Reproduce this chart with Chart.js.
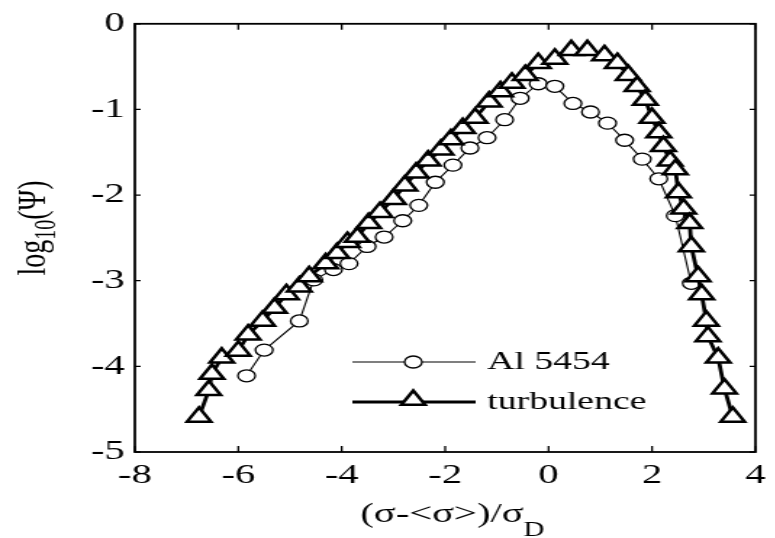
<!DOCTYPE html>
<html>
<head>
<meta charset="utf-8">
<script src="https://cdn.jsdelivr.net/npm/chart.js@4/dist/chart.umd.min.js"></script>
<style>
  html, body { margin: 0; padding: 0; background: #fff; overflow: hidden; }
  /* the original figure is stretched horizontally, so draw narrow and stretch */
  #chart { display: block; transform: scaleX(1.45); transform-origin: 0 0; }
</style>
</head>
<body>
<canvas id="chart" width="535" height="538"></canvas>
<script>
// Al 5454 (circles)
const alX = [-5.84, -5.50, -4.82, -4.54, -4.16, -3.86, -3.51, -3.18, -2.82, -2.51, -2.19, -1.85, -1.52,
  -1.19, -0.85, -0.55, -0.20, 0.12, 0.47, 0.81, 1.14, 1.47, 1.81, 2.13, 2.45, 2.76];
const alY = [-4.11, -3.81, -3.47, -2.99, -2.87, -2.80, -2.60, -2.49, -2.30, -2.12, -1.85, -1.65, -1.45,
  -1.33, -1.12, -0.87, -0.70, -0.73, -0.93, -1.03, -1.16, -1.36, -1.58, -1.81, -2.24, -3.03];

// turbulence (triangles)
const turbX = [-6.76, -6.57, -6.51, -6.32, -6.00, -5.81, -5.53, -5.30, -5.07, -4.82, -4.63, -4.31, -4.09,
  -3.89, -3.70, -3.48, -3.26, -3.00, -2.78, -2.56, -2.33, -2.08, -1.89, -1.66, -1.42, -1.15, -0.93,
  -0.71, -0.45, -0.20, 0.12, 0.44, 0.75, 1.08, 1.33, 1.54, 1.71, 1.87, 2.00, 2.13, 2.22, 2.35, 2.45,
  2.51, 2.61, 2.73, 2.76, 2.89, 2.96, 3.05, 3.08, 3.28, 3.40, 3.56];
const turbY = [-4.59, -4.28, -4.09, -3.90, -3.82, -3.63, -3.47, -3.32, -3.16, -3.07, -2.95, -2.80, -2.68,
  -2.55, -2.49, -2.33, -2.20, -2.05, -1.89, -1.74, -1.60, -1.47, -1.35, -1.22, -1.10, -0.91, -0.79,
  -0.69, -0.60, -0.46, -0.41, -0.31, -0.31, -0.37, -0.46, -0.60, -0.73, -0.89, -1.10, -1.27, -1.43, -1.60, -1.70,
  -1.97, -2.16, -2.33, -2.60, -2.95, -3.16, -3.47, -3.65, -3.90, -4.26, -4.59];

const xTicks = [-8, -6, -4, -2, 0, 2, 4];
const yTicks = [-5, -4, -3, -2, -1, 0];
const legendLabels = ['Al 5454', 'turbulence'];

const FONT = "'Liberation Serif', 'Times New Roman', serif";

function pts(xs, ys) {
  return xs.map((x, i) => ({ x: x, y: ys[i] }));
}

function drawTri(ctx, x, y, r) {
  ctx.beginPath();
  ctx.moveTo(x, y - r);
  ctx.lineTo(x + r * 0.866, y + r * 0.5);
  ctx.lineTo(x - r * 0.866, y + r * 0.5);
  ctx.closePath();
  ctx.fill();
  ctx.stroke();
}

// frame, inward ticks, axis titles with subscripts, legend
const decorations = {
  id: 'decorations',
  afterDraw(chart) {
    const ctx = chart.ctx;
    const { left, right, top, bottom } = chart.chartArea;
    const xs = chart.scales.x, ys = chart.scales.y;
    ctx.save();
    ctx.strokeStyle = '#000';
    ctx.lineWidth = 1.8;
    ctx.strokeRect(left, top, right - left, bottom - top);

    ctx.lineWidth = 1.3;
    ctx.beginPath();
    xTicks.forEach(v => {
      const p = xs.getPixelForValue(v);
      ctx.moveTo(p, bottom); ctx.lineTo(p, bottom - 6);
      ctx.moveTo(p, top); ctx.lineTo(p, top + 6);
    });
    yTicks.forEach(v => {
      const p = ys.getPixelForValue(v);
      ctx.moveTo(left, p); ctx.lineTo(left + 4, p);
      ctx.moveTo(right, p); ctx.lineTo(right - 4, p);
    });
    ctx.stroke();

    const big = '28px ' + FONT, small = '20px ' + FONT;

    // x title
    ctx.fillStyle = '#000';
    ctx.textBaseline = 'alphabetic';
    ctx.textAlign = 'left';
    ctx.font = big;
    const xMain = '(σ-<σ>)/σ';
    const wMain = ctx.measureText(xMain).width;
    ctx.font = small;
    const wSub = ctx.measureText('D').width;
    const sx = 312 - (wMain + wSub) / 2;
    ctx.font = big;
    ctx.fillText(xMain, sx, 522);
    ctx.font = small;
    ctx.fillText('D', sx + wMain, 536);

    // y title
    ctx.save();
    ctx.translate(31, 228);
    ctx.rotate(-Math.PI / 2);
    ctx.font = big;
    const w1 = ctx.measureText('log').width;
    const w3 = ctx.measureText('(Ψ)').width;
    ctx.font = small;
    const w2 = ctx.measureText('10').width;
    const yx = -(w1 + w2 + w3) / 2;
    ctx.font = big;
    ctx.fillText('log', yx, 0);
    ctx.font = small;
    ctx.fillText('10', yx + w1, 7);
    ctx.font = big;
    ctx.fillText('(Ψ)', yx + w1 + w2, 0);
    ctx.restore();

    // legend
    ctx.strokeStyle = '#000';
    ctx.lineWidth = 1.1;
    ctx.beginPath();
    ctx.moveTo(243, 362); ctx.lineTo(328, 362);
    ctx.stroke();
    ctx.fillStyle = '#fff';
    ctx.lineWidth = 1.3;
    ctx.beginPath();
    ctx.arc(285, 362, 6, 0, Math.PI * 2);
    ctx.fill(); ctx.stroke();

    ctx.lineWidth = 2.8;
    ctx.beginPath();
    ctx.moveTo(243, 402); ctx.lineTo(328, 402);
    ctx.stroke();
    ctx.lineWidth = 2.5;
    drawTri(ctx, 285, 400, 9.5);

    ctx.fillStyle = '#000';
    ctx.font = '26px ' + FONT;
    ctx.textBaseline = 'middle';
    ctx.fillText(legendLabels[0], 336, 362);
    ctx.fillText(legendLabels[1], 336, 402);
    ctx.restore();
  }
};

new Chart(document.getElementById('chart'), {
  type: 'scatter',
  data: {
    datasets: [
      {
        label: legendLabels[1],
        data: pts(turbX, turbY),
        showLine: true,
        order: 0,
        borderColor: '#000',
        borderWidth: 2.8,
        pointStyle: 'triangle',
        pointRadius: 9.5,
        pointBorderWidth: 2.5,
        pointBackgroundColor: '#fff',
        pointBorderColor: '#000',
      },
      {
        label: legendLabels[0],
        data: pts(alX, alY),
        showLine: true,
        order: 1,
        borderColor: '#000',
        borderWidth: 1.1,
        pointStyle: 'circle',
        pointRadius: 6,
        pointBorderWidth: 1.3,
        pointBackgroundColor: '#fff',
        pointBorderColor: '#000',
      }
    ]
  },
  options: {
    responsive: false,
    animation: false,
    layout: { padding: { left: 0, right: 9, top: 20, bottom: 0 } },
    plugins: {
      legend: { display: false },
      tooltip: { enabled: false },
    },
    scales: {
      x: {
        type: 'linear',
        min: -8, max: 4,
        afterBuildTicks: s => { s.ticks = xTicks.map(v => ({ value: v })); },
        afterFit: s => { s.height = 86; },
        grid: { display: false, drawTicks: false },
        border: { display: false },
        ticks: {
          color: '#000',
          font: { family: FONT, size: 28 },
          padding: 7,
          maxRotation: 0,
          callback: v => String(v),
        }
      },
      y: {
        type: 'linear',
        min: -5, max: 0,
        afterBuildTicks: s => { s.ticks = yTicks.map(v => ({ value: v })); },
        afterFit: s => { s.width = 93; },
        grid: { display: false, drawTicks: false },
        border: { display: false },
        ticks: {
          color: '#000',
          font: { family: FONT, size: 28 },
          padding: 7,
          callback: v => String(v),
        }
      }
    }
  },
  plugins: [decorations]
});
</script>
</body>
</html>
